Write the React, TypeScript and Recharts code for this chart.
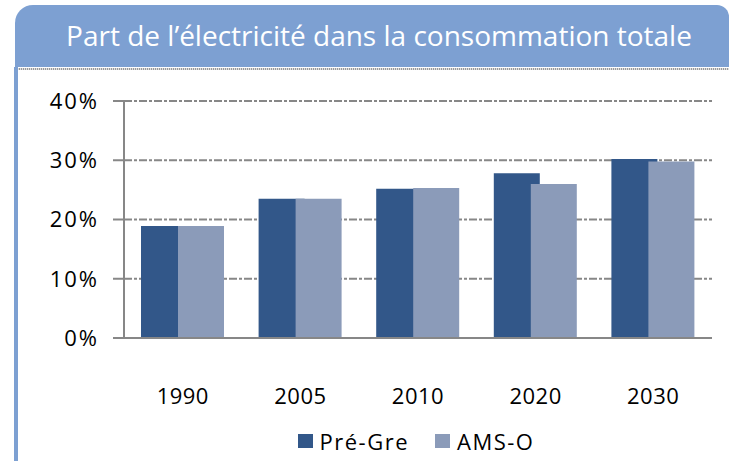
import React from 'react';
import { BarChart, Bar, XAxis, YAxis, CartesianGrid, Legend } from 'recharts';

const categories = ['1990', '2005', '2010', '2020', '2030'];
const preGre = [18.9, 23.5, 25.2, 27.8, 30.2];
const amsO = [18.9, 23.5, 25.3, 26.0, 29.8];
const yTicks = [0, 10, 20, 30, 40];
const boundaryTicks = [0, 1, 2, 3, 4, 5];
const seriesNames = ['Pré-Gre', 'AMS-O'];
const titleText = 'Part de l\u2019électricité dans la consommation totale';

const DARK = '#325789';
const LIGHT = '#8B9BB9';
const GRID = '#878787';
const FRAME = '#7DA0D2';
const FONT = '"Open Sans", "DejaVu Sans", sans-serif';

const data = categories.map((c, i) => ({ year: c, preGre: preGre[i], amsO: amsO[i] }));

const LegendContent = () => (
  <div
    style={{
      height: 40,
      paddingLeft: 120,
      boxSizing: 'border-box',
      display: 'flex',
      justifyContent: 'center',
      alignItems: 'center',
      fontFamily: FONT,
      fontSize: 22,
      letterSpacing: 1.5,
      color: '#000',
    }}
  >
    {seriesNames.map((n, i) => (
      <div key={n} style={{ display: 'flex', alignItems: 'center', marginRight: i === 0 ? 26 : 0 }}>
        <div style={{ width: 15, height: 14, background: i === 0 ? DARK : LIGHT, marginRight: 7 }} />
        <span>{n}</span>
      </div>
    ))}
  </div>
);

export default function App() {
  return (
    <div style={{ position: 'absolute', left: 0, top: 0, width: 729, height: 461, background: '#fff', overflow: 'hidden' }}>
      <div
        style={{
          position: 'absolute',
          left: 15,
          top: 5,
          width: 714,
          height: 62,
          background: FRAME,
          borderRadius: '18px 12px 0 0',
          display: 'flex',
          alignItems: 'center',
          justifyContent: 'center',
          paddingLeft: 14,
          paddingBottom: 2,
          boxSizing: 'border-box',
          color: '#fff',
          fontFamily: FONT,
          fontSize: 28,
          whiteSpace: 'nowrap',
        }}
      >
        {titleText}
      </div>
      <div
        style={{
          position: 'absolute',
          left: 17,
          top: 68,
          width: 712,
          height: 2,
          background: 'repeating-linear-gradient(90deg, #9a9a9a 0 1px, #e0e0e0 1px 2px)',
        }}
      />
      <div style={{ position: 'absolute', left: 14, top: 67, width: 4, height: 394, background: FRAME }} />
      <div style={{ position: 'absolute', left: 0, top: 0 }}>
        <BarChart
          width={729}
          height={461}
          data={data}
          margin={{ top: 101, right: 17, left: 0, bottom: 0 }}
          barSize={46}
          barGap={-9}
        >
          <CartesianGrid horizontal vertical={false} stroke={GRID} strokeWidth={2} strokeDasharray="8 2 3 2" xAxisId="cat" />
          <XAxis
            xAxisId="bnd"
            type="number"
            domain={[0, 5]}
            ticks={boundaryTicks}
            allowDataOverflow
            height={0}
            axisLine={false}
            tick={false}
            tickLine={{ stroke: GRID, strokeWidth: 2 }}
            tickSize={9}
          />
          <XAxis
            xAxisId="cat"
            dataKey="year"
            height={83}
            tickLine={false}
            axisLine={{ stroke: GRID, strokeWidth: 2 }}
            tickMargin={44}
            tick={{ fill: '#000', fontSize: 22, fontFamily: FONT, letterSpacing: 0.5 }}
          />
          <YAxis
            width={124}
            domain={[0, 40]}
            ticks={yTicks}
            tickFormatter={(v: number) => `${v}%`}
            tickSize={11}
            tickMargin={14}
            axisLine={{ stroke: GRID, strokeWidth: 2 }}
            tickLine={{ stroke: GRID, strokeWidth: 2 }}
            tick={{ fill: '#000', fontSize: 22, fontFamily: FONT, letterSpacing: 2 }}
          />
          <Legend verticalAlign="bottom" content={<LegendContent />} />
          <Bar xAxisId="cat" dataKey="preGre" name={seriesNames[0]} fill={DARK} isAnimationActive={false} />
          <Bar xAxisId="cat" dataKey="amsO" name={seriesNames[1]} fill={LIGHT} isAnimationActive={false} />
        </BarChart>
      </div>
    </div>
  );
}
